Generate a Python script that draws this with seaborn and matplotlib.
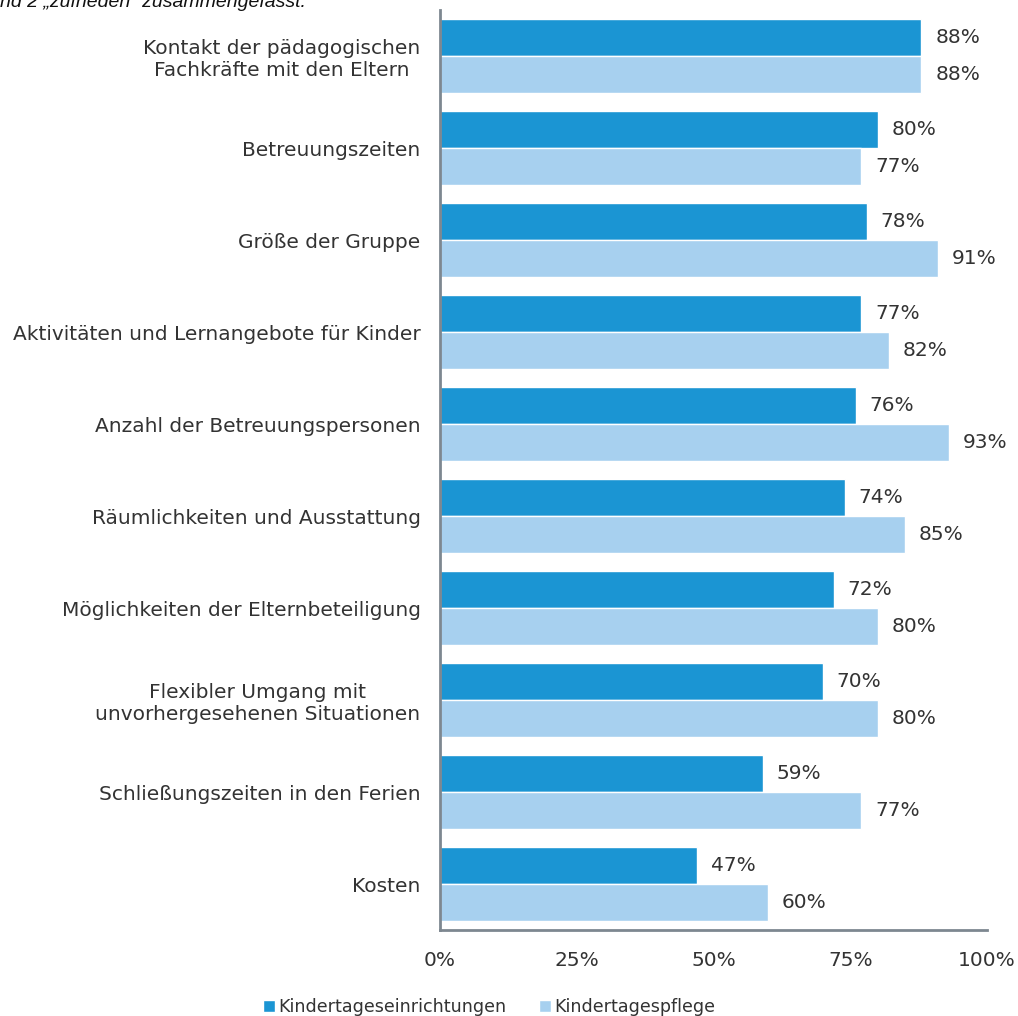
import pandas as pd
import matplotlib.pyplot as plt
import seaborn as sns
from matplotlib.patches import Patch

# Zufriedenheit der Eltern, Anteil "sehr zufrieden" + "zufrieden"
categories = [
    "Kontakt der pädagogischen\nFachkräfte mit den Eltern",
    "Betreuungszeiten",
    "Größe der Gruppe",
    "Aktivitäten und Lernangebote für Kinder",
    "Anzahl der Betreuungspersonen",
    "Räumlichkeiten und Ausstattung",
    "Möglichkeiten der Elternbeteiligung",
    "Flexibler Umgang mit\nunvorhergesehenen Situationen",
    "Schließungszeiten in den Ferien",
    "Kosten",
]
kita = [88, 80, 78, 77, 76, 74, 72, 70, 59, 47]
pflege = [88, 77, 91, 82, 93, 85, 80, 80, 77, 60]
series = ["Kindertageseinrichtungen", "Kindertagespflege"]
colors = ["#1b95d3", "#a7d0ef"]
xticks = [0, 25, 50, 75, 100]

df = pd.DataFrame({
    "kategorie": categories * 2,
    "wert": kita + pflege,
    "art": [series[0]] * len(kita) + [series[1]] * len(pflege),
})

sns.set_theme(style="white")
plt.rcParams["font.family"] = ["DejaVu Sans"]
txt = "#333333"
spine = "#7d8790"
fs = 14.5

fig = plt.figure(figsize=(10.18, 10.16), dpi=100)
ax = fig.add_axes([440 / 1018, 1 - 930 / 1016, 547 / 1018, 920 / 1016])

sns.barplot(data=df, y="kategorie", x="wert", hue="art", palette=colors,
            orient="h", width=0.8, saturation=1, legend=False, ax=ax)

for cont in ax.containers:
    ax.bar_label(cont, labels=[f"{v:.0f}%" for v in cont.datavalues],
                 padding=10, fontsize=fs, color=txt)

ax.set_xlim(0, 100)
ax.set_ylim(9.5, -0.5)
ax.set_xticks(xticks)
ax.set_xticklabels([f"{t}%" for t in xticks], fontsize=fs, color=txt)
ax.tick_params(axis="x", length=5, width=1, color=spine, pad=10, direction="out")
ax.tick_params(axis="y", which="major", length=0, pad=14, labelsize=fs, labelcolor=txt)
ax.set_yticks([i + 0.5 for i in range(-1, len(categories))], minor=True)
ax.tick_params(axis="y", which="minor", length=5, width=1, color=spine, direction="out")
for lbl in ax.get_yticklabels():
    lbl.set_multialignment("center")
ax.set_xlabel("")
ax.set_ylabel("")
sns.despine(ax=ax, top=True, right=True)
for s in ["left", "bottom"]:
    ax.spines[s].set_color(spine)
    ax.spines[s].set_linewidth(2)

handles = [Patch(facecolor=c, label=l) for c, l in zip(colors, series)]
fig.legend(handles=handles, loc="center", bbox_to_anchor=(489 / 1018, 1 - 1007 / 1016),
           ncol=2, frameon=False, fontsize=12.6, handlelength=0.7, handleheight=0.7,
           handletextpad=0.15, columnspacing=1.9, labelcolor=txt)

fig.text(0.0, 1 - 7 / 1016, "nd 2 „zufrieden“ zusammengefasst.", fontstyle="italic",
         family=["Liberation Sans"], fontsize=14, color="#111111", va="baseline", ha="left")

fig.savefig("out.png", dpi=100)
